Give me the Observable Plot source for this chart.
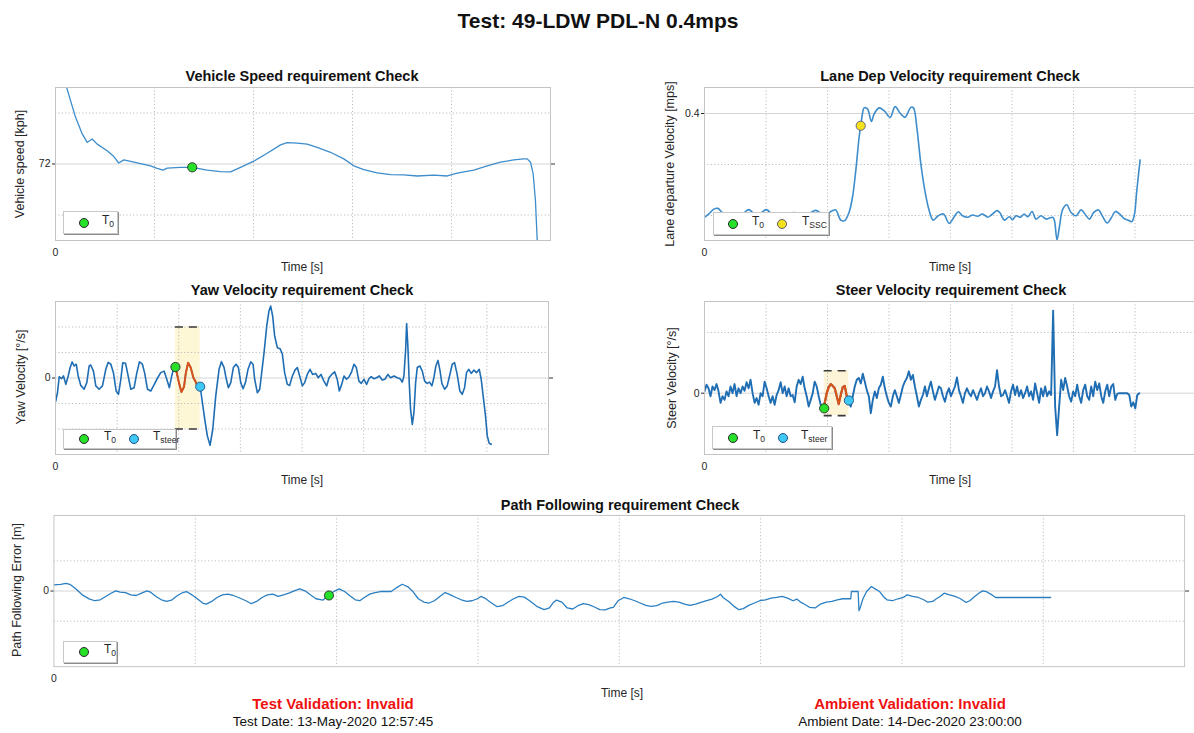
<!DOCTYPE html>
<html>
<head>
<meta charset="utf-8">
<script src="https://cdn.jsdelivr.net/npm/d3@7"></script>
<script src="https://cdn.jsdelivr.net/npm/@observablehq/plot@0.6"></script>
<style>
  html, body { margin:0; padding:0; background:#fff; overflow:hidden; }
  #fig { position:relative; width:1194px; height:733px; overflow:hidden; background:#fff;
         font-family:"Liberation Sans", Arial, Helvetica, sans-serif; color:#262626; }
  .t { position:absolute; white-space:nowrap; transform:translate(-50%,-50%); line-height:1; }
  .t.rot { transform:translate(-50%,-50%) rotate(-90deg); }
  .legend { position:absolute; background:#fff; border:1px solid #c8c8c8; box-shadow:1px 1px 0 #8c8c8c; box-sizing:border-box; }
  .legend .mk { position:absolute; width:10px; height:10px; border-radius:50%; box-sizing:border-box; top:50%; transform:translate(-50%,-50%); }
  .legend .lb { position:absolute; top:50%; transform:translateY(-60%); font-size:12px; color:#262626; line-height:1; }
  .legend sub { font-size:8.5px; vertical-align:-3px; line-height:1; }
</style>
</head>
<body>
<div id="fig"></div>
<script>
// ---------------- data ----------------
const T0 = 9.73;          // s, T0 marker (yaw / steer / path)
const TSTEER = 11.74;     // s, T_steer marker
const SPEED_T0 = [13.81, 71.87];
const T_SSC = [12.70, 0.352];
const YAW_LIMIT = 2.0;    // deg/s
const STEER_LIMIT = 37;   // deg/s

const speedData = [[1.11,75.02],[2.02,73.84],[2.70,73.18],[3.20,72.85],[3.71,72.98],[4.21,72.78],[5.22,72.52],[5.89,72.29],[6.39,72.04],[6.90,72.16],[8.25,72.04],[9.60,71.93],[10.27,71.83],[10.88,71.76],[11.28,71.84],[12.63,71.87],[13.81,71.87],[15.32,71.76],[16.67,71.70],[17.68,71.69],[18.69,71.87],[20.03,72.11],[21.38,72.42],[22.73,72.75],[23.40,72.84],[24.41,72.82],[25.42,72.78],[26.43,72.65],[27.78,72.46],[29.12,72.20],[30.13,71.93],[31.14,71.78],[32.49,71.65],[33.84,71.58],[35.18,71.57],[36.54,71.53],[38.21,71.56],[39.57,71.53],[40.58,71.64],[42.25,71.76],[43.61,71.93],[44.95,72.07],[46.29,72.16],[47.30,72.20],[47.65,72.20],[47.98,72.07],[48.25,71.61],[48.48,70.56],[48.66,68.99]];

const laneData = [[0.00,-0.007],[0.35,0.006],[0.76,0.025],[1.09,0.028],[1.44,0.012],[1.85,0.003],[2.39,0.001],[3.07,0.006],[3.61,0.023],[4.15,0.002],[4.56,0.008],[5.02,0.023],[5.65,-0.001],[6.19,0.008],[6.73,0.003],[7.27,0.012],[7.82,0.002],[8.50,0.008],[9.04,0.020],[9.72,0.003],[10.40,0.019],[10.67,0.022],[11.08,-0.018],[11.40,-0.020],[11.75,0.012],[12.03,0.071],[12.30,0.176],[12.57,0.307],[12.70,0.352],[12.84,0.398],[12.97,0.422],[13.25,0.418],[13.57,0.369],[13.79,0.398],[14.20,0.422],[14.60,0.411],[15.09,0.385],[15.50,0.427],[15.91,0.401],[16.29,0.385],[16.78,0.424],[16.99,0.422],[17.26,0.346],[17.59,0.202],[17.92,0.097],[18.27,0.019],[18.59,-0.018],[19.00,-0.001],[19.43,0.006],[19.90,-0.031],[20.30,-0.005],[20.63,0.015],[20.98,-0.001],[21.39,-0.007],[21.80,0.002],[22.20,-0.003],[22.61,0.006],[23.02,-0.007],[23.34,0.003],[23.78,0.019],[24.02,0.011],[24.38,-0.018],[24.78,-0.005],[25.05,-0.016],[25.33,-0.001],[25.68,-0.007],[26.00,0.006],[26.28,-0.005],[26.63,0.016],[26.95,-0.014],[27.36,-0.001],[27.77,-0.014],[28.31,-0.007],[28.45,-0.020],[28.66,-0.096],[28.85,-0.046],[29.13,0.025],[29.45,0.042],[29.80,0.012],[30.21,-0.001],[30.62,0.022],[31.03,-0.001],[31.30,-0.014],[31.65,0.012],[32.03,0.022],[32.38,-0.005],[32.74,-0.029],[33.06,-0.010],[33.41,0.016],[33.74,0.006],[34.09,-0.011],[34.42,-0.018],[34.74,-0.024],[34.96,0.006],[35.12,0.084],[35.29,0.163],[35.42,0.218]];

const yawData = [[0.00,-0.94],[0.16,-0.58],[0.30,0.05],[0.49,-0.03],[0.65,0.08],[0.84,-0.25],[1.03,0.08],[1.19,0.41],[1.35,0.63],[1.51,0.47],[1.68,0.54],[1.84,0.08],[2.05,-0.29],[2.32,-0.44],[2.54,-0.18],[2.73,0.47],[2.86,0.51],[3.08,0.27],[3.27,-0.31],[3.54,-0.44],[3.81,-0.31],[4.08,0.34],[4.27,0.61],[4.49,0.54],[4.70,0.21],[4.92,-0.51],[5.11,-0.64],[5.30,-0.05],[5.46,0.60],[5.68,0.58],[5.84,0.21],[6.11,-0.44],[6.38,-0.38],[6.59,0.18],[6.81,0.63],[7.05,0.54],[7.24,0.18],[7.46,-0.44],[7.73,-0.51],[7.95,-0.31],[8.22,-0.05],[8.54,0.21],[8.81,0.27],[9.03,-0.05],[9.24,-0.38],[9.43,0.08],[9.62,0.44],[9.73,0.43],[10.03,-0.21],[10.22,-0.55],[10.43,-0.34],[10.57,0.18],[10.76,0.60],[10.97,0.41],[11.19,0.01],[11.38,-0.16],[11.51,-0.31],[11.74,-0.34],[11.92,-0.97],[12.11,-1.62],[12.32,-2.27],[12.54,-2.64],[12.76,-2.01],[13.00,-0.71],[13.27,0.34],[13.46,0.64],[13.68,0.41],[13.86,-0.05],[14.03,-0.38],[14.22,-0.18],[14.43,0.41],[14.65,0.54],[14.84,0.41],[15.03,-0.18],[15.22,-0.42],[15.41,-0.18],[15.62,0.34],[15.84,0.63],[16.03,0.54],[16.16,-0.05],[16.38,-0.58],[16.57,-0.44],[16.73,0.21],[16.92,0.99],[17.14,2.04],[17.32,2.63],[17.46,2.82],[17.62,2.43],[17.78,1.65],[18.00,1.19],[18.22,1.15],[18.41,0.93],[18.59,0.21],[18.81,-0.25],[19.00,-0.29],[19.22,0.08],[19.43,0.31],[19.62,0.41],[19.81,0.08],[20.03,-0.31],[20.22,-0.18],[20.43,0.14],[20.65,0.34],[20.86,0.14],[21.11,0.18],[21.32,0.01],[21.54,0.14],[21.78,-0.12],[22.00,-0.31],[22.19,0.01],[22.41,0.14],[22.65,0.24],[22.86,-0.05],[23.03,-0.51],[23.22,-0.25],[23.41,0.08],[23.62,-0.05],[23.81,0.04],[24.00,0.21],[24.22,0.54],[24.41,0.41],[24.62,-0.12],[24.81,-0.21],[25.03,-0.05],[25.24,-0.25],[25.43,-0.03],[25.62,0.05],[25.84,-0.03],[26.05,0.01],[26.27,0.08],[26.51,-0.08],[26.73,-0.05],[26.97,0.14],[27.19,0.01],[27.46,0.08],[27.73,0.01],[27.95,-0.03],[28.14,-0.16],[28.27,0.08],[28.41,1.12],[28.49,2.14],[28.59,1.25],[28.70,-0.18],[28.81,-1.23],[28.95,-1.82],[29.08,-1.36],[29.22,-0.18],[29.35,0.41],[29.57,0.47],[29.76,0.27],[29.95,-0.12],[30.16,-0.21],[30.35,-0.16],[30.54,-0.31],[30.70,0.01],[30.86,0.47],[31.03,0.69],[31.19,0.31],[31.35,-0.21],[31.57,-0.44],[31.78,-0.31],[31.97,0.08],[32.19,0.54],[32.38,0.60],[32.59,0.14],[32.81,-0.51],[33.00,-0.64],[33.19,-0.38],[33.35,0.21],[33.54,0.34],[33.73,0.18],[33.95,0.31],[34.16,0.21],[34.38,0.34],[34.54,-0.05],[34.70,-0.71],[34.89,-1.49],[35.03,-2.27],[35.19,-2.56],[35.35,-2.60]];
const YAW_T0_V = 0.43, YAW_TSTEER_V = -0.34;

// steer velocity, sampled every STEER_DT seconds from t = 0
const STEER_DT = 0.1629;
const steerVals = [3,14,8,-5,11,5,15,3,-16,-5,-11,3,-5,11,0,15,-5,8,0,11,4,18,8,22,0,-16,-8,-19,0,-5,19,8,-5,-16,-5,-19,-3,5,18,0,11,-5,8,-5,-3,-15,11,22,15,27,8,-5,-22,-11,0,19,11,-5,-19,-25,-16,0,10,15,12,8,-5,-18,-3,10,12,-5,-15,-22,-5,11,22,25,16,32,19,5,-5,-33,-11,3,-8,8,14,27,8,-5,-16,-22,-5,5,-5,-16,-3,11,19,25,36,22,30,11,-5,-22,-11,-3,11,-5,8,19,3,-11,0,11,8,-5,-14,0,8,-5,3,11,26,5,-5,-16,0,8,0,-5,5,-3,-11,0,8,-5,0,11,3,-8,3,11,38,11,-5,-3,5,-5,-16,3,14,-3,11,-5,5,-8,0,11,-5,3,-11,16,0,-16,8,-5,11,-5,3,-3,136,-22,-69,-22,22,5,25,11,-5,-14,3,-5,14,-5,-16,5,14,-5,-11,11,-5,19,5,16,-5,-16,3,14,-5,11,15,-11,-1,0,0,0,0,0,-3,-22,-15,-25,-3,0];
const STEER_T0_V = -25, STEER_TSTEER_V = -12;

const pathData = [[0.00,0.101],[0.24,0.112],[0.43,0.128],[0.56,0.112],[0.75,0.046],[1.00,-0.063],[1.26,-0.134],[1.45,-0.161],[1.64,-0.145],[1.83,-0.090],[2.02,-0.036],[2.19,0.003],[2.34,-0.019],[2.53,-0.025],[2.72,-0.063],[2.91,-0.074],[3.10,-0.036],[3.29,0.003],[3.42,-0.019],[3.61,-0.090],[3.80,-0.145],[3.99,-0.172],[4.18,-0.145],[4.37,-0.074],[4.56,-0.025],[4.69,-0.008],[4.88,-0.063],[5.07,-0.128],[5.26,-0.199],[5.39,-0.216],[5.58,-0.172],[5.77,-0.107],[5.96,-0.063],[6.15,-0.052],[6.34,-0.074],[6.53,-0.107],[6.79,-0.161],[6.98,-0.210],[7.17,-0.172],[7.36,-0.107],[7.55,-0.063],[7.74,-0.052],[7.93,-0.090],[8.12,-0.063],[8.31,-0.036],[8.50,0.003],[8.69,0.036],[8.88,0.003],[9.07,-0.063],[9.27,-0.128],[9.52,-0.150],[9.71,-0.074],[9.90,-0.008],[10.09,0.036],[10.28,-0.008],[10.47,-0.079],[10.66,-0.145],[10.82,-0.161],[10.98,-0.107],[11.17,-0.052],[11.36,-0.025],[11.55,-0.008],[11.74,-0.008],[11.93,-0.008],[12.13,0.057],[12.32,0.112],[12.51,0.074],[12.70,-0.008],[12.89,-0.128],[13.08,-0.183],[13.27,-0.199],[13.46,-0.161],[13.65,-0.090],[13.84,-0.025],[14.03,-0.063],[14.22,-0.107],[14.41,-0.145],[14.60,-0.172],[14.79,-0.161],[14.98,-0.128],[15.11,-0.090],[15.24,-0.117],[15.43,-0.183],[15.68,-0.260],[15.87,-0.243],[16.07,-0.183],[16.26,-0.128],[16.45,-0.090],[16.64,-0.101],[16.83,-0.161],[17.08,-0.254],[17.34,-0.309],[17.53,-0.281],[17.65,-0.199],[17.78,-0.150],[17.97,-0.183],[18.16,-0.281],[18.35,-0.298],[18.54,-0.243],[18.73,-0.210],[18.92,-0.227],[19.12,-0.265],[19.31,-0.309],[19.50,-0.314],[19.69,-0.281],[19.79,-0.270],[19.96,-0.161],[20.16,-0.107],[20.35,-0.128],[20.55,-0.161],[20.74,-0.199],[20.94,-0.238],[21.13,-0.254],[21.33,-0.243],[21.53,-0.199],[21.72,-0.183],[21.92,-0.172],[22.11,-0.183],[22.31,-0.216],[22.50,-0.238],[22.70,-0.216],[22.89,-0.189],[23.09,-0.161],[23.28,-0.134],[23.48,-0.090],[23.58,-0.052],[23.67,-0.107],[23.87,-0.172],[24.06,-0.254],[24.23,-0.309],[24.39,-0.292],[24.58,-0.238],[24.78,-0.199],[24.97,-0.161],[25.17,-0.145],[25.37,-0.117],[25.56,-0.107],[25.76,-0.090],[25.95,-0.117],[26.15,-0.161],[26.28,-0.134],[26.41,-0.183],[26.54,-0.216],[26.73,-0.270],[26.93,-0.281],[27.12,-0.216],[27.32,-0.183],[27.52,-0.172],[27.71,-0.145],[27.91,-0.128],[28.10,-0.128],[28.19,-0.128],[28.21,-0.008],[28.45,-0.008],[28.48,-0.325],[28.52,-0.281],[28.62,-0.128],[28.75,-0.008],[28.92,0.074],[29.05,0.036],[29.21,-0.008],[29.34,-0.090],[29.47,-0.145],[29.66,-0.161],[29.86,-0.128],[30.05,-0.107],[30.18,-0.063],[30.38,-0.090],[30.58,-0.107],[30.77,-0.145],[30.90,-0.183],[31.09,-0.172],[31.22,-0.128],[31.35,-0.090],[31.49,-0.036],[31.68,-0.063],[31.88,-0.090],[32.07,-0.128],[32.27,-0.189],[32.40,-0.161],[32.53,-0.107],[32.72,-0.036],[32.85,0.003],[32.98,-0.008],[33.18,-0.063],[33.31,-0.107],[35.26,-0.107]];
const PATH_T0_V = -0.074;

// ---------------- styling ----------------
const FONT = '"Liberation Sans", Arial, Helvetica, sans-serif';
const BLUE_LIGHT = "#3d8dcc", BLUE = "#1f6db3", ORANGE = "#d95319";
const GREEN = "#27e02a", CYAN = "#3fc8f4", YELLOW = "#f6e21c";
const GRID = "#bdbdbd";
const fmt = d3.format("~g");

const fig = document.getElementById("fig");
const X = d => d[0], Y = d => d[1];

function addText(html, x, y, style = {}, rotate = false) {
  const el = document.createElement("div");
  el.className = "t" + (rotate ? " rot" : "");
  el.innerHTML = html;
  el.style.left = x + "px"; el.style.top = y + "px";
  Object.assign(el.style, style);
  fig.appendChild(el);
}
function addLegend(x, y, w, h, items) {
  const box = document.createElement("div"); box.className = "legend";
  Object.assign(box.style, {left: x + "px", top: y + "px", width: w + "px", height: h + "px"});
  for (const it of items) {
    const mk = document.createElement("div"); mk.className = "mk";
    Object.assign(mk.style, {left: it.dotX + "px", background: it.fill, border: "1px solid " + it.stroke});
    box.appendChild(mk);
    const lb = document.createElement("div"); lb.className = "lb";
    lb.style.left = it.textX + "px"; lb.innerHTML = "T<sub>" + it.sub + "</sub>";
    box.appendChild(lb);
  }
  fig.appendChild(box);
}
function addPanel(cfg) {
  const [x0, x1, y0, y1] = cfg.frame;
  const mL = 50, mR = 14, mT = 6, mB = 22;
  const svg = Plot.plot({
    width: x1 - x0 + mL + mR, height: y1 - y0 + mT + mB,
    marginLeft: mL, marginRight: mR, marginTop: mT, marginBottom: mB,
    style: {background: "transparent", fontFamily: FONT, fontSize: "10.5px", color: "#262626", overflow: "visible"},
    x: {domain: cfg.xDomain, axis: null},
    y: {domain: cfg.yDomain, axis: null},
    marks: [
      ...(cfg.under || []),
      Plot.gridX({ticks: cfg.xGrid, stroke: GRID, strokeOpacity: 1, strokeDasharray: "1.2,2.2"}),
      Plot.gridY({ticks: cfg.yGrid, stroke: GRID, strokeOpacity: 1, strokeDasharray: "1.2,2.2"}),
      Plot.ruleY([cfg.yRef], {stroke: "#d6d6d6"}),
      ...cfg.marks,
      Plot.frame({stroke: "#c4c4c4"}),
      Plot.axisX({ticks: [cfg.xDomain[0]], tickSize: 0, tickPadding: 8, tickFormat: fmt, label: null}),
      Plot.axisY({ticks: [cfg.yRef], tickSize: 3, tickPadding: 2, tickFormat: fmt, label: null}),
      Plot.axisY({ticks: [cfg.yRef], anchor: "right", tickSize: 4, tickFormat: () => "", label: null, stroke: "#333"})
    ]
  });
  svg.style.position = "absolute";
  svg.style.left = (x0 - mL) + "px";
  svg.style.top = (y0 - mT) + "px";
  fig.appendChild(svg);
}
const gridEvery5 = [5, 10, 15, 20, 25, 30, 35];
const dotStyle = (fill, stroke) => ({x: X, y: Y, r: 4.6, fill, stroke, strokeWidth: 0.9});

// ---------- Vehicle speed ----------
addPanel({
  frame: [55, 550, 87, 240], xDomain: [0, 50], xGrid: [10, 20, 30, 40],
  yDomain: [69, 75], yGrid: [70, 74], yRef: 72,
  marks: [
    Plot.line(speedData, {x: X, y: Y, stroke: BLUE_LIGHT, strokeWidth: 1.3, clip: true}),
    Plot.dot([SPEED_T0], dotStyle(GREEN, "#2a2a2a"))
  ]
});

// ---------- Lane departure velocity ----------
addPanel({
  frame: [704, 1196, 87, 240], xDomain: [0, 40], xGrid: gridEvery5,
  yDomain: [-0.098, 0.502], yGrid: [0, 0.2], yRef: 0.4,
  marks: [
    Plot.line(laneData, {x: X, y: Y, stroke: BLUE_LIGHT, strokeWidth: 1.6, curve: "catmull-rom", clip: true}),
    Plot.dot([T_SSC], dotStyle(YELLOW, "#5a5a7a"))
  ]
});

// ---------- Yaw velocity ----------
const yawWindow = yawData.filter(d => d[0] >= T0 && d[0] <= TSTEER);
addPanel({
  frame: [55, 548, 301, 454], xDomain: [0, 40], xGrid: gridEvery5,
  yDomain: [-3, 3], yGrid: [-2, -1, 1, 2], yRef: 0,
  under: [
    Plot.rect([{a: T0, b: TSTEER, lo: -YAW_LIMIT, hi: YAW_LIMIT}], {x1: "a", x2: "b", y1: "lo", y2: "hi", fill: "#fdf7d6"})
  ],
  marks: [
    Plot.line(yawData, {x: X, y: Y, stroke: BLUE, strokeWidth: 1.6, clip: true}),
    Plot.line(yawWindow, {x: X, y: Y, stroke: ORANGE, strokeWidth: 2}),
    Plot.ruleY([YAW_LIMIT, -YAW_LIMIT].map(v => ({v, a: T0, b: TSTEER})), {y: "v", x1: "a", x2: "b", stroke: "#3a3a3a", strokeWidth: 1.6, strokeDasharray: "8,6"}),
    Plot.dot([[T0, YAW_T0_V]], dotStyle(GREEN, "#2a2a2a")),
    Plot.dot([[TSTEER, YAW_TSTEER_V]], dotStyle(CYAN, "#224f86"))
  ]
});

// ---------- Steer velocity ----------
const steerData = steerVals.map((v, i) => [i * STEER_DT, v]);
const steerWindow = [[T0, STEER_T0_V], ...steerData.filter(d => d[0] >= T0 - 0.05 && d[0] <= TSTEER + 0.05), [TSTEER, STEER_TSTEER_V]];
addPanel({
  frame: [704, 1196, 301, 454], xDomain: [0, 40], xGrid: gridEvery5,
  yDomain: [-101, 151], yGrid: [100], yRef: 0,
  under: [
    Plot.rect([{a: T0, b: TSTEER, lo: -STEER_LIMIT, hi: STEER_LIMIT}], {x1: "a", x2: "b", y1: "lo", y2: "hi", fill: "#fdf3d6"})
  ],
  marks: [
    Plot.line(steerData, {x: X, y: Y, stroke: BLUE, strokeWidth: 1.9, clip: true}),
    Plot.line(steerWindow, {x: X, y: Y, stroke: ORANGE, strokeWidth: 2.2}),
    Plot.ruleY([STEER_LIMIT, -STEER_LIMIT].map(v => ({v, a: T0, b: TSTEER})), {y: "v", x1: "a", x2: "b", stroke: "#3a3a3a", strokeWidth: 1.6, strokeDasharray: "8,6"}),
    Plot.dot([[T0, STEER_T0_V]], dotStyle(GREEN, "#2a2a2a")),
    Plot.dot([[TSTEER, STEER_TSTEER_V]], dotStyle(CYAN, "#224f86"))
  ]
});

// ---------- Path following ----------
addPanel({
  frame: [54, 1198, 515, 668], xDomain: [0, 40], xGrid: gridEvery5,
  yDomain: [-1.254, 1.254], yGrid: [-0.5, 0.5], yRef: 0,
  marks: [
    Plot.line(pathData, {x: X, y: Y, stroke: "#2a7fc2", strokeWidth: 1.3, clip: true}),
    Plot.dot([[T0, PATH_T0_V]], dotStyle(GREEN, "#2a2a2a"))
  ]
});

// ---------------- texts ----------------
const titleStyle = {fontWeight: "bold", fontSize: "14.5px", color: "#111"};
const labelStyle = {fontSize: "12px", color: "#262626"};
const ylabelStyle = {fontSize: "12.5px", color: "#262626"};
addText("Test: 49-LDW PDL-N 0.4mps", 598, 20, {fontWeight: "bold", fontSize: "21px", color: "#111"});
addText("Vehicle Speed requirement Check", 302, 76, titleStyle);
addText("Lane Dep Velocity requirement Check", 950, 76, titleStyle);
addText("Yaw Velocity requirement Check", 302, 290, titleStyle);
addText("Steer Velocity requirement Check", 951, 290, titleStyle);
addText("Path Following requirement Check", 620, 505, titleStyle);

addText("Time [s]", 302, 267, labelStyle);
addText("Time [s]", 950, 267, labelStyle);
addText("Time [s]", 302, 480, labelStyle);
addText("Time [s]", 950, 480, labelStyle);
addText("Time [s]", 622, 693, labelStyle);

addText("Vehicle speed [kph]", 20, 164, ylabelStyle, true);
addText("Lane departure Velocity [mps]", 670, 164, ylabelStyle, true);
addText("Yaw Velocity [°/s]", 21, 377, ylabelStyle, true);
addText("Steer Velocity [°/s]", 672, 378, ylabelStyle, true);
addText("Path Following Error [m]", 17, 590, ylabelStyle, true);

addText("Test Validation: Invalid", 333, 703, {fontWeight: "bold", fontSize: "15px", color: "#ee1111"});
addText("Test Date: 13-May-2020 12:57:45", 333, 722, {fontSize: "13.5px", color: "#111"});
addText("Ambient Validation: Invalid", 910, 703, {fontWeight: "bold", fontSize: "15px", color: "#ee1111"});
addText("Ambient Date: 14-Dec-2020 23:00:00", 910, 722, {fontSize: "13.5px", color: "#111"});

// ---------------- legends ----------------
const G = {fill: GREEN, stroke: "#2a2a2a"}, C = {fill: CYAN, stroke: "#224f86"}, Yw = {fill: YELLOW, stroke: "#5a5a7a"};
addLegend(63, 211, 55, 23, [{...G, dotX: 20, textX: 38, sub: "0"}]);
addLegend(713, 212, 116, 23, [{...G, dotX: 19, textX: 38, sub: "0"}, {...Yw, dotX: 68, textX: 88, sub: "SSC"}]);
addLegend(63, 429, 113, 20, [{...G, dotX: 20, textX: 40, sub: "0"}, {...C, dotX: 70, textX: 89, sub: "steer"}]);
addLegend(712, 426, 120, 23, [{...G, dotX: 20, textX: 40, sub: "0"}, {...C, dotX: 70, textX: 88, sub: "steer"}]);
addLegend(63, 641, 54, 22, [{...G, dotX: 20, textX: 40, sub: "0"}]);
</script>
</body>
</html>
